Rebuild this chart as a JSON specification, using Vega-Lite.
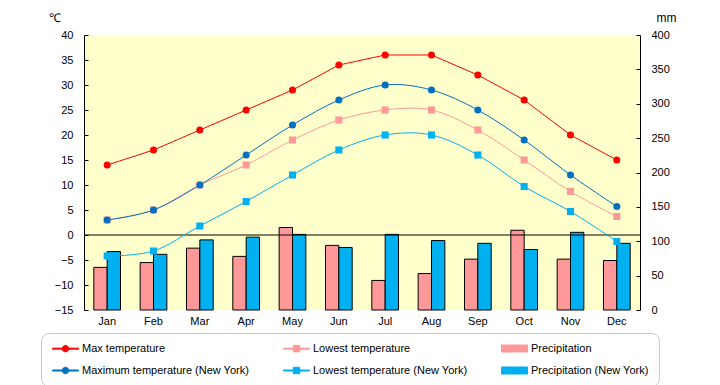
{
  "$schema": "https://vega.github.io/schema/vega-lite/v6.json",
  "width": 556,
  "height": 275,
  "autosize": {"type": "none"},
  "padding": {"left": 84, "top": 35, "right": 80, "bottom": 75},
  "config": {
    "font": "Liberation Sans",
    "view": {"fill": "#FFFFCC", "stroke": null},
    "axis": {
      "labelFont": "Liberation Sans",
      "labelFontSize": 11,
      "labelColor": "black",
      "domainColor": "black",
      "domainWidth": 1,
      "tickColor": "black",
      "grid": false,
      "titleFont": "Liberation Sans",
      "titleFontSize": 12,
      "titleFontWeight": "normal",
      "titleColor": "black"
    },
    "axisX": {"domain": false, "ticks": false, "labelPadding": 5, "labelAngle": 0, "title": null},
    "axisY": {"ticks": true, "tickSize": -4, "labelPadding": 15}
  },
  "datasets": {
    "temps": [
      {"month": "Jan", "series": "Max temperature", "value": 14},
      {"month": "Feb", "series": "Max temperature", "value": 17},
      {"month": "Mar", "series": "Max temperature", "value": 21},
      {"month": "Apr", "series": "Max temperature", "value": 25},
      {"month": "May", "series": "Max temperature", "value": 29},
      {"month": "Jun", "series": "Max temperature", "value": 34},
      {"month": "Jul", "series": "Max temperature", "value": 36},
      {"month": "Aug", "series": "Max temperature", "value": 36},
      {"month": "Sep", "series": "Max temperature", "value": 32},
      {"month": "Oct", "series": "Max temperature", "value": 27},
      {"month": "Nov", "series": "Max temperature", "value": 20},
      {"month": "Dec", "series": "Max temperature", "value": 15},
      {"month": "Jan", "series": "Lowest temperature", "value": 3},
      {"month": "Feb", "series": "Lowest temperature", "value": 5},
      {"month": "Mar", "series": "Lowest temperature", "value": 10},
      {"month": "Apr", "series": "Lowest temperature", "value": 14},
      {"month": "May", "series": "Lowest temperature", "value": 19},
      {"month": "Jun", "series": "Lowest temperature", "value": 23},
      {"month": "Jul", "series": "Lowest temperature", "value": 25},
      {"month": "Aug", "series": "Lowest temperature", "value": 25},
      {"month": "Sep", "series": "Lowest temperature", "value": 21},
      {"month": "Oct", "series": "Lowest temperature", "value": 15},
      {"month": "Nov", "series": "Lowest temperature", "value": 8.7},
      {"month": "Dec", "series": "Lowest temperature", "value": 3.7},
      {"month": "Jan", "series": "Maximum temperature (New York)", "value": 3},
      {"month": "Feb", "series": "Maximum temperature (New York)", "value": 5},
      {"month": "Mar", "series": "Maximum temperature (New York)", "value": 10},
      {"month": "Apr", "series": "Maximum temperature (New York)", "value": 16},
      {"month": "May", "series": "Maximum temperature (New York)", "value": 22},
      {"month": "Jun", "series": "Maximum temperature (New York)", "value": 27},
      {"month": "Jul", "series": "Maximum temperature (New York)", "value": 30},
      {"month": "Aug", "series": "Maximum temperature (New York)", "value": 29},
      {"month": "Sep", "series": "Maximum temperature (New York)", "value": 25},
      {"month": "Oct", "series": "Maximum temperature (New York)", "value": 19},
      {"month": "Nov", "series": "Maximum temperature (New York)", "value": 12},
      {"month": "Dec", "series": "Maximum temperature (New York)", "value": 5.7},
      {"month": "Jan", "series": "Lowest temperature (New York)", "value": -4.2},
      {"month": "Feb", "series": "Lowest temperature (New York)", "value": -3.2},
      {"month": "Mar", "series": "Lowest temperature (New York)", "value": 1.8},
      {"month": "Apr", "series": "Lowest temperature (New York)", "value": 6.7},
      {"month": "May", "series": "Lowest temperature (New York)", "value": 12},
      {"month": "Jun", "series": "Lowest temperature (New York)", "value": 17},
      {"month": "Jul", "series": "Lowest temperature (New York)", "value": 20},
      {"month": "Aug", "series": "Lowest temperature (New York)", "value": 20},
      {"month": "Sep", "series": "Lowest temperature (New York)", "value": 16},
      {"month": "Oct", "series": "Lowest temperature (New York)", "value": 9.7},
      {"month": "Nov", "series": "Lowest temperature (New York)", "value": 4.7},
      {"month": "Dec", "series": "Lowest temperature (New York)", "value": -1.3}
    ],
    "precip": [
      {"month": "Jan", "series": "Precipitation", "mm": 62},
      {"month": "Feb", "series": "Precipitation", "mm": 69},
      {"month": "Mar", "series": "Precipitation", "mm": 90},
      {"month": "Apr", "series": "Precipitation", "mm": 78},
      {"month": "May", "series": "Precipitation", "mm": 120},
      {"month": "Jun", "series": "Precipitation", "mm": 94},
      {"month": "Jul", "series": "Precipitation", "mm": 43},
      {"month": "Aug", "series": "Precipitation", "mm": 53},
      {"month": "Sep", "series": "Precipitation", "mm": 74},
      {"month": "Oct", "series": "Precipitation", "mm": 116},
      {"month": "Nov", "series": "Precipitation", "mm": 74},
      {"month": "Dec", "series": "Precipitation", "mm": 72},
      {"month": "Jan", "series": "Precipitation (New York)", "mm": 85},
      {"month": "Feb", "series": "Precipitation (New York)", "mm": 81},
      {"month": "Mar", "series": "Precipitation (New York)", "mm": 102},
      {"month": "Apr", "series": "Precipitation (New York)", "mm": 106},
      {"month": "May", "series": "Precipitation (New York)", "mm": 110},
      {"month": "Jun", "series": "Precipitation (New York)", "mm": 91},
      {"month": "Jul", "series": "Precipitation (New York)", "mm": 110},
      {"month": "Aug", "series": "Precipitation (New York)", "mm": 101},
      {"month": "Sep", "series": "Precipitation (New York)", "mm": 97},
      {"month": "Oct", "series": "Precipitation (New York)", "mm": 88},
      {"month": "Nov", "series": "Precipitation (New York)", "mm": 113},
      {"month": "Dec", "series": "Precipitation (New York)", "mm": 97}
    ]
  },
  "layer": [
    {
      "data": {"name": "precip"},
      "mark": {"type": "bar", "stroke": "black", "strokeWidth": 1, "opacity": 1},
      "encoding": {
        "x": {
          "field": "month", "type": "nominal",
          "sort": ["Jan","Feb","Mar","Apr","May","Jun","Jul","Aug","Sep","Oct","Nov","Dec"],
          "scale": {"paddingInner": 0.424, "paddingOuter": 0.212},
          "axis": {"title": null}
        },
        "xOffset": {
          "field": "series", "type": "nominal",
          "scale": {"domain": ["Precipitation", "Precipitation (New York)"], "paddingInner": 0, "paddingOuter": 0}
        },
        "y": {
          "field": "mm", "type": "quantitative",
          "scale": {"domain": [0, 400], "nice": false, "zero": true},
          "axis": {
            "orient": "right",
            "values": [0, 50, 100, 150, 200, 250, 300, 350, 400],
            "title": "mm",
            "titleAngle": 0,
            "titleAlign": "center",
            "titleBaseline": "middle",
            "titleX": 26,
            "titleY": -18
          }
        },
        "color": {
          "field": "series", "type": "nominal",
          "scale": {
            "domain": ["Max temperature", "Maximum temperature (New York)", "Lowest temperature", "Lowest temperature (New York)", "Precipitation", "Precipitation (New York)"],
            "range": ["#FF0000", "#0070C0", "#FF9999", "#00B0F0", "#FF9999", "#00B0F0"]
          },
          "legend": {
            "orient": "none",
            "legendX": -43,
            "legendY": 298,
            "title": null,
            "columns": 3,
            "columnPadding": 31,
            "rowPadding": 10,
            "padding": 10,
            "strokeColor": "#C8C8C8",
            "cornerRadius": 8,
            "fillColor": "white",
            "symbolSize": 100,
            "symbolOffset": 9,
            "symbolOpacity": 1,
            "symbolStrokeWidth": 1,
            "symbolType": {"expr": "indexof(datum.value, 'Precipitation') == 0 ? 'M-2.6,-0.7H2.6V0.7H-2.6Z' : (indexof(datum.value, 'Lowest') == 0 ? 'M-2.6,-0.1H2.6V0.1H-2.6Z M-0.65,-0.65H0.65V0.65H-0.65Z' : 'M-2.6,-0.1H2.6V0.1H-2.6Z M-0.65,0A0.65,0.65,0,1,1,0.65,0A0.65,0.65,0,1,1,-0.65,0Z')"},
            "labelFont": "Liberation Sans",
            "labelFontSize": 11,
            "labelColor": "black",
            "labelOffset": 11,
            "labelLimit": 300,
            "encoding": {
              "symbols": {
                "stroke": {"condition": {"test": "indexof(datum.value, 'Precipitation') == 0", "value": "black"}, "value": "transparent"},
                "strokeWidth": {"value": 1}
              }
            }
          }
        }
      }
    },
    {
      "data": {"values": [{}]},
      "mark": {"type": "rule", "color": "black", "strokeWidth": 1},
      "encoding": {
        "y": {"datum": 0, "type": "quantitative", "scale": {"domain": [-15, 40], "nice": false, "zero": false}, "axis": null}
      }
    },
    {
      "data": {"name": "temps"},
      "encoding": {
        "x": {
          "field": "month", "type": "nominal",
          "sort": ["Jan","Feb","Mar","Apr","May","Jun","Jul","Aug","Sep","Oct","Nov","Dec"],
          "axis": {"title": null}
        },
        "y": {
          "field": "value", "type": "quantitative",
          "scale": {"domain": [-15, 40], "nice": false, "zero": false},
          "axis": {
            "orient": "left",
            "values": [-15, -10, -5, 0, 5, 10, 15, 20, 25, 30, 35, 40],
            "title": "℃",
            "titleAngle": 0,
            "titleAlign": "center",
            "titleBaseline": "middle",
            "titleX": -30,
            "titleY": -18
          }
        },
        "color": {
          "field": "series", "type": "nominal",
          "scale": {
            "domain": ["Max temperature", "Maximum temperature (New York)", "Lowest temperature", "Lowest temperature (New York)", "Precipitation", "Precipitation (New York)"],
            "range": ["#FF0000", "#0070C0", "#FF9999", "#00B0F0", "#FF9999", "#00B0F0"]
          },
          "legend": null
        }
      },
      "layer": [
        {
          "transform": [{"filter": {"field": "series", "oneOf": ["Lowest temperature (New York)"]}}],
          "mark": {"type": "line", "interpolate": "cardinal", "strokeWidth": 1}
        },
        {
          "transform": [{"filter": {"field": "series", "oneOf": ["Lowest temperature"]}}],
          "mark": {"type": "line", "interpolate": "cardinal", "strokeWidth": 1}
        },
        {
          "transform": [{"filter": {"field": "series", "oneOf": ["Maximum temperature (New York)"]}}],
          "mark": {"type": "line", "interpolate": "cardinal", "strokeWidth": 1}
        },
        {
          "transform": [{"filter": {"field": "series", "oneOf": ["Max temperature"]}}],
          "mark": {"type": "line", "interpolate": "linear", "strokeWidth": 1}
        },
        {
          "mark": {"type": "point", "filled": true, "size": 50, "opacity": 1},
          "encoding": {
            "shape": {
              "field": "series", "type": "nominal",
              "scale": {
                "domain": ["Max temperature", "Lowest temperature", "Maximum temperature (New York)", "Lowest temperature (New York)"],
                "range": ["circle", "square", "circle", "square"]
              },
              "legend": null
            }
          }
        }
      ]
    }
  ],
  "resolve": {"scale": {"y": "independent"}, "axis": {"y": "independent"}}
}
